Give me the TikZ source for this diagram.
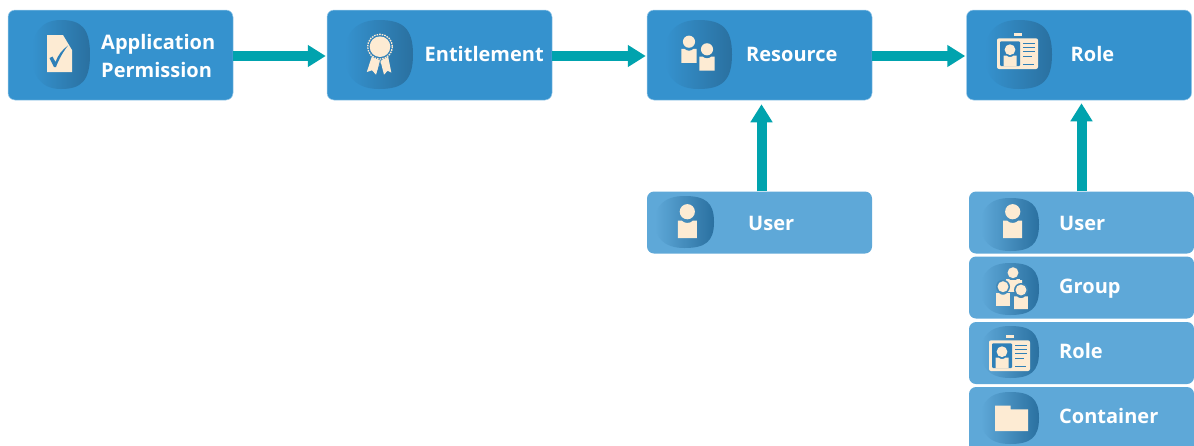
\documentclass[tikz,border=0pt]{standalone}
\usepackage{fontspec}
\setmainfont{Open Sans}
\usetikzlibrary{arrows.meta,calc}
\definecolor{boxtop}{HTML}{3592CE}
\definecolor{boxlow}{HTML}{5EA8D8}
\definecolor{edgetop}{HTML}{9CCBEA}
\definecolor{blobdark}{HTML}{2A70A0}
\definecolor{cream}{HTML}{FDEBD3}
\definecolor{teal}{HTML}{00A3AE}
\definecolor{inkblue}{HTML}{2F80B8}
\tikzset{
  topbox/.style={draw=edgetop,line width=.5pt,fill=boxtop,rounded corners=7pt,minimum width=225pt,minimum height=90pt,inner sep=0pt},
  lowbox/.style={draw=none,fill=boxlow,rounded corners=7pt,minimum width=225pt,inner sep=0pt},
  caption/.style={anchor=base west,inner sep=0pt,text=white,font=\fontsize{20}{25}\selectfont\bfseries},
  flow/.style={draw=teal,line width=10pt,-{Triangle[length=18pt,width=21pt]}}
}
\newcommand{\blobshape}[5]{%
  \shade[left color=#5,right color=blobdark]
   ({#1+0.5*(#2-#1)},#3) .. controls ({#1+0.85*(#2-#1)},#3) and (#2,{#3+0.12*(#4-#3)}) .. (#2,{#3+0.5*(#4-#3)})
   .. controls (#2,{#3+0.88*(#4-#3)}) and ({#1+0.85*(#2-#1)},#4) .. ({#1+0.5*(#2-#1)},#4)
   .. controls ({#1+0.15*(#2-#1)},#4) and (#1,{#3+0.8*(#4-#3)}) .. (#1,{#3+0.5*(#4-#3)})
   .. controls (#1,{#3+0.2*(#4-#3)}) and ({#1+0.15*(#2-#1)},#3) .. cycle;}
\newcommand{\personicon}[3]{%
  \begin{scope}[shift={(#1,#2)},scale=#3]
    \fill[cream] (0,0) circle (7.6);
    \fill[cream] (-9.5,9) -- (-5.5,9) .. controls (-3,12) and (3,12) .. (5.5,9) -- (9.5,9) -- (9.5,26.5) -- (-9.5,26.5) -- cycle;
  \end{scope}}
\newcommand{\idcard}[2]{%
  \begin{scope}[shift={(#1,#2)}]
    \fill[cream] (1014,33) rectangle (1022,36.4);
    \fill[cream,rounded corners=2pt] (997,38.3) rectangle (1038,69);
    \fill[inkblue,rounded corners=1pt] (1000,41.3) rectangle (1020,66);
    \fill[cream] (1010,49.7) circle (5.4);
    \fill[cream] (1003.5,55.5) -- (1006.5,55.5) .. controls (1008,57.5) and (1012,57.5) .. (1013.5,55.5) -- (1016.5,55.5) -- (1016.5,66) -- (1003.5,66) -- cycle;
    \draw[inkblue,line width=1pt] (1023,43.4) -- (1035,43.4) (1023,47.4) -- (1035,47.4) (1023,51.6) -- (1035,51.6) (1023,56) -- (1032,56) (1023,64) -- (1034,64);
  \end{scope}}
\begin{document}
\begin{tikzpicture}[x=1pt,y=-1pt]
\useasboundingbox (0,0) rectangle (1194,445);
\clip (0,0) rectangle (1194,445);
\fill[white] (0,0) rectangle (1194,445);
\node[topbox] (app) at (120.5,55) {};
\node[topbox] (ent) at (439.5,55) {};
\node[topbox] (res) at (759.5,55) {};
\node[topbox] (rol) at (1079,55) {};
\node[lowbox,minimum height=62pt] (usr) at (759.5,222.5) {};
\node[lowbox,minimum height=62pt] (su) at (1081.5,222.5) {};
\node[lowbox,minimum height=62pt] (sg) at (1081.5,287.5) {};
\node[lowbox,minimum height=62pt] (sr) at (1081.5,353) {};
\node[lowbox,minimum height=74pt] (sc) at (1081.5,424) {};
\draw[flow] ([yshift=-1pt]app.east) -- ([yshift=-1pt,xshift=-1pt]ent.west);
\draw[flow] ([yshift=-1pt]ent.east) -- ([yshift=-1pt,xshift=-1pt]res.west);
\draw[flow] ([yshift=-1pt]res.east) -- ([yshift=-1pt,xshift=-1pt]rol.west);
\draw[flow] ([xshift=2pt]usr.north) -- ([xshift=2pt,yshift=-4pt]res.south);
\draw[flow] (su.north) -- ([xshift=2.5pt,yshift=-3pt]rol.south);
\blobshape{32}{90}{20}{89}{boxtop}
\blobshape{345}{413}{20}{89}{boxtop}
\blobshape{665}{732}{20}{89}{boxtop}
\blobshape{985}{1052}{20}{89}{boxtop}
\blobshape{655}{714}{196}{248}{boxlow}
\blobshape{981}{1039}{198}{251}{boxlow}
\blobshape{981}{1039}{263}{315}{boxlow}
\blobshape{981}{1039}{326}{378}{boxlow}
\blobshape{981}{1039}{392}{444}{boxlow}
% application icon
\fill[cream] (47,35) -- (63,35) -- (72,50) -- (72,72) -- (47,72) -- cycle;
\fill[inkblue] (49.5,58) -- (52.5,56.5) -- (55.5,62) .. controls (58,55) and (62,50) .. (68,45.5) .. controls (63,52) and (59,59) .. (56,67) -- (54,67) -- cycle;
% entitlement icon
\fill[cream] (372,56) -- (366.8,72) -- (372,70.3) -- (376,74.7) -- (381,61) -- cycle;
\fill[cream] (388,56) -- (391.3,72.5) -- (387.5,70.8) -- (384,74.7) -- (380.5,61) -- cycle;
\draw[inkblue,line width=.7pt] (380.4,60.5) -- (377,74);
\fill[inkblue] (380,46.7) circle (12.8);
\draw[cream,line width=1.3pt,dash pattern=on 1.6pt off 1pt] (380,46.7) circle (12.4);
\fill[cream] (380,46.7) circle (10.3);
\personicon{689}{41.7}{0.8}
\personicon{707}{49.3}{0.8}
\personicon{687.3}{211.7}{1}
\personicon{1012.7}{211.7}{1}
% group icon
\fill[cream] (1005,280) -- (1022,280) -- (1022,288) -- (1014,291) -- (1010,289) -- (1005,284) -- cycle;
\personicon{1013}{272.7}{0.72}
\fill[blobdark!55!boxlow] (1003,286.7) circle (7);
\fill[blobdark!60!boxlow] (1021,290) circle (7);
\personicon{1003}{286.7}{0.72}
\personicon{1021}{290}{0.72}
\idcard{0}{0}
\idcard{-8}{302}
\fill[cream] (995,405.7) -- (1010.7,405.7) -- (1010.7,409.3) -- (1028,409.3) -- (1028,431) -- (995,431) -- cycle;
\node[caption] (t1) at (101,49.3) {Application};
\node[caption] (t2) at (101,77.3) {Permission};
\node[caption] (t3) at (424.5,61) {Entitlement};
\node[caption] (t4) at (746,61) {Resource};
\node[caption] (t5) at (1070.5,61) {Role};
\node[caption] (t6) at (748,230) {User};
\node[caption] (t7) at (1059,230) {User};
\node[caption] (t8) at (1059,293.3) {Group};
\node[caption] (t9) at (1059,358.3) {Role};
\node[caption] (t10) at (1059,423.3) {Container};
\end{tikzpicture}
\end{document}
